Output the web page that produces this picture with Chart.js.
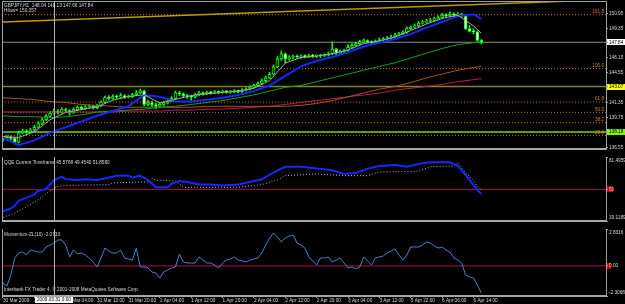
<!DOCTYPE html>
<html>
<head>
<meta charset="utf-8">
<script src="https://cdn.jsdelivr.net/npm/chart.js@4.4.1/dist/chart.umd.min.js"></script>
<style>
  html, body { margin: 0; padding: 0; background: #000; width: 625px; height: 304px; overflow: hidden; }
  canvas { position: absolute; left: 0; top: 0; }
</style>
</head>
<body>
<canvas id="mainChart" width="625" height="304"></canvas>
<canvas id="qqeChart" width="625" height="304"></canvas>
<canvas id="momChart" width="625" height="304"></canvas>
<script>
// TIME AXIS
const timeLabels = ["30 Mar 2009", "30 Mar 20:00", "31 Mar 04:00", "31 Mar 12:00", "31 Mar 20:00", "1 Apr 04:00",
  "1 Apr 12:00", "1 Apr 20:00", "2 Apr 04:00", "2 Apr 12:00", "2 Apr 20:00", "3 Apr 04:00", "3 Apr 12:00",
  "5 Apr 22:00", "6 Apr 06:00", "6 Apr 14:00"];
const timeIdx = [0, 8, 16, 24, 32, 40, 48, 56, 64, 72, 80, 88, 96, 104, 112, 120];
const markerBar = 13;
const markerLabel = "2009.03.31 0:00";

// GBPJPY H1 CANDLES
const opens = [137.5,137.4,137.6,137.5,137.1,138.1,138.3,138.2,138.4,138.7,
  139.1,139.5,139.9,140.2,140.4,140.3,140.6,140.5,140.3,140.6,
  140.85,140.7,140.9,140.95,140.8,141.0,141.4,141.9,141.8,142.0,
  141.95,142.1,141.95,142.0,142.2,142.4,142.6,141.15,141.35,141.1,
  140.95,141.15,141.3,141.55,141.8,142.4,142.3,142.1,142.0,141.95,
  142.2,142.4,142.3,142.45,142.4,142.5,142.45,142.55,142.5,142.5,
  142.6,142.55,142.7,142.8,143.0,143.2,143.4,143.7,144.0,144.4,
  145.2,146.05,146.6,146.05,146.2,146.3,146.25,146.35,146.3,146.4,
  146.35,146.35,146.4,146.45,146.6,147.1,146.7,146.8,146.95,147.3,
  147.5,147.7,147.9,148.0,147.9,147.8,147.95,148.1,148.2,148.3,
  148.4,148.6,148.75,148.9,149.3,149.45,149.6,149.9,150.0,150.1,
  150.2,150.35,150.5,150.75,150.7,150.85,150.75,150.85,150.65,149.3,
  149.0,148.95,148.04];
const highs = [137.7,137.8,137.75,137.6,138.3,138.5,138.45,138.6,138.9,139.3,
  139.7,140.1,140.4,140.7,140.6,140.8,140.75,140.6,140.8,141.0,
  141.0,141.05,141.1,141.05,141.15,141.55,142.05,142.1,142.2,142.15,
  142.35,142.2,142.15,142.35,142.65,142.8,142.7,141.6,141.5,141.3,
  141.35,141.5,141.7,142.0,142.6,142.55,142.4,142.25,142.15,142.35,
  142.55,142.5,142.6,142.55,142.65,142.6,142.7,142.65,142.65,142.75,
  142.7,142.85,142.95,143.15,143.35,143.55,143.9,144.2,144.6,145.4,
  146.3,146.9,146.7,146.4,146.45,146.45,146.5,146.5,146.55,146.55,
  146.5,146.55,146.6,146.8,147.9,147.2,147.0,147.1,147.6,147.7,
  147.85,148.05,148.2,148.1,148.0,148.1,148.3,148.35,148.45,148.6,
  148.8,148.9,149.1,149.5,149.6,149.8,150.1,150.2,150.3,150.4,
  150.55,150.7,150.95,150.9,151.1,151.0,151.05,150.95,150.75,149.65,
  149.3,149.05,148.13];
const lows = [137.2,137.3,137.3,136.9,137.0,138.0,138.0,138.1,138.3,138.6,
  139.0,139.4,139.8,140.1,140.1,140.2,140.3,140.0,140.2,140.5,
  140.55,140.6,140.75,140.65,140.7,140.9,141.3,141.65,141.7,141.8,
  141.85,141.8,141.85,141.9,142.1,142.3,141.0,141.0,140.9,140.7,
  140.8,141.0,141.2,141.45,141.7,142.1,141.9,141.8,141.6,141.85,
  142.1,142.15,142.2,142.25,142.3,142.3,142.35,142.35,142.35,142.4,
  142.4,142.45,142.6,142.7,142.9,143.1,143.3,143.6,143.9,144.3,
  145.1,145.9,145.6,145.9,146.05,146.1,146.1,146.15,146.2,146.2,
  146.2,146.2,146.3,146.35,146.5,146.5,146.6,146.65,146.85,147.2,
  147.4,147.6,147.8,147.75,147.6,147.7,147.85,148.0,148.1,148.2,
  148.3,148.5,148.65,148.8,149.2,149.35,149.5,149.8,149.9,150.0,
  150.1,150.25,150.4,150.5,150.6,150.55,150.6,150.5,149.2,148.95,
  148.75,147.95,147.66];
const closes = [137.4,137.6,137.5,137.1,138.1,138.3,138.2,138.4,138.7,139.1,
  139.5,139.9,140.2,140.4,140.3,140.6,140.5,140.3,140.6,140.85,
  140.7,140.9,140.95,140.8,141.0,141.4,141.9,141.8,142.0,141.95,
  142.1,141.95,142.0,142.2,142.4,142.6,141.15,141.35,141.1,140.95,
  141.15,141.3,141.55,141.8,142.4,142.3,142.1,142.0,141.95,142.2,
  142.4,142.3,142.45,142.4,142.5,142.45,142.55,142.5,142.5,142.6,
  142.55,142.7,142.8,143.0,143.2,143.4,143.7,144.0,144.4,145.2,
  146.05,146.6,146.05,146.2,146.3,146.25,146.35,146.3,146.4,146.35,
  146.35,146.4,146.45,146.6,147.1,146.7,146.8,146.95,147.3,147.5,
  147.7,147.9,148.0,147.9,147.8,147.95,148.1,148.2,148.3,148.4,
  148.6,148.75,148.9,149.3,149.45,149.6,149.9,150.0,150.1,150.2,
  150.35,150.5,150.75,150.7,150.85,150.75,150.85,150.65,149.3,149.0,
  148.95,148.05,147.84];

// MOVING AVERAGES (sampled every few bars)
const maBars = [0,4,8,12,16,20,24,28,32,36,40,44,48,52,56,60,64,68,72,76,80,84,88,92,96,100,104,108,112,116,120,122];
const maFast = [137.7,137.6,138.2,139.5,140.3,140.6,140.9,141.6,142.0,142.2,141.3,141.7,142.1,142.3,142.45,142.55,
  142.9,143.7,145.6,146.2,146.35,146.6,147.0,147.7,148.0,148.4,149.1,149.8,150.4,150.75,149.6,148.8];
const maBlue = [137.58,136.77,137.28,138.09,138.71,139.32,139.93,140.44,140.95,142.17,141.97,141.46,141.46,141.66,141.87,142.17,
  142.58,143.19,144.22,145.24,145.85,146.26,146.77,147.38,147.79,148.19,148.71,149.42,150.03,150.65,150.85,150.34];
const maGreen = [139.93,139.83,139.83,139.73,139.83,140.03,140.34,140.44,140.54,140.64,140.85,140.95,141.15,141.36,141.56,141.87,
  142.17,142.58,142.99,143.19,143.60,144.01,144.42,144.83,145.24,145.64,146.15,146.66,147.17,147.58,147.79,147.89];
const maBrown = [141.87,141.77,141.67,141.46,141.36,141.15,141.05,140.95,140.85,140.85,140.85,140.85,140.85,140.95,140.95,140.95,
  140.95,140.95,140.95,141.05,141.26,141.56,141.97,142.38,142.79,143.09,143.50,144.01,144.42,144.83,145.13,145.24];
const maRed = [140.34,140.34,140.34,140.34,140.34,140.34,140.34,140.34,140.44,140.44,140.44,140.54,140.54,140.64,140.64,140.75,
  140.85,140.95,141.15,141.36,141.56,141.77,141.97,142.17,142.38,142.68,142.89,143.09,143.30,143.60,143.81,143.91];

// OBJECTS ON PRICE CHART
const fibLevels = [23.6, 38.2, 50.0, 61.8, 100.0, 161.8];
const fibLow = 135.6, fibHigh = 145.0;
const trendBars = [0, 150];
const trendPrices = [150.03, 152.35];
const currentPrice = 147.84;
const yellowPrice = 143.07;
const greenPrice = 138.18;
const priceTicks = [150.95, 149.35, 147.84, 146.15, 144.55, 143.07, 141.35, 139.75, 138.18, 136.55];
const priceRange = [136.358, 152.277];

// QQE
const qqeBlueBars = [0,2,3,4,6,8,9,11,13,15,16,19,21,24,27,29,32,33,35,37,39,42,43,45,47,50,53,56,60,63,66,68,70,72,76,80,84,87,90,93,96,100,103,106,109,114,116,117,119,121,122];
const qqeBlue = [28.65,31.25,33.9,39.0,41.6,45.1,48.6,50.3,59.0,62.4,59.8,59.0,59.8,59.0,61.6,63.3,63.3,61.6,63.3,59.0,52.0,52.0,55.5,58.1,57.2,54.6,54.6,53.8,54.6,57.2,59.8,64.2,68.5,72.0,72.0,70.2,68.5,65.0,65.9,70.2,72.8,73.7,72.0,74.6,76.3,76.3,72.8,68.5,59.0,49.4,45.58];
const qqeGrayBars = [0,3,6,9,12,14,16,27,28,37,38,39,44,46,53,60,66,70,72,80,87,93,96,106,109,115,116,118,120,121,122];
const qqeGray = [22.6,26.9,33.0,39.9,48.6,52.9,53.8,54.6,56.4,57.2,60.7,59.0,58.1,52.0,52.0,52.0,54.6,59.0,63.3,65.0,63.3,63.3,66.8,67.7,72.0,72.8,76.3,65.9,59.0,52.9,49.45];
const qqeRange = [19.1189, 81.4959];
const qqeLevel = 50;

// MOMENTUM-ZL(10)
const momentum = [-1.31,-1.54,-0.70,0.61,0.99,1.07,0.84,1.22,1.14,1.07,
  1.07,1.45,1.60,1.76,1.99,1.99,1.60,0.69,1.22,0.91,
  0.99,0.84,0.61,0.30,-0.08,0.61,1.37,1.14,0.99,0.99,
  1.22,0.61,0.53,0.45,1.37,-0.08,-0.08,-0.16,-0.47,-0.54,
  -0.93,-0.47,-0.31,-0.16,-0.08,0.91,0.30,0.22,0.22,0.22,
  0.69,0.45,0.22,0.22,0.07,-0.16,0.22,0.45,0.53,0.69,
  0.45,0.38,0.30,0.45,0.53,0.61,0.99,1.60,2.14,2.53,
  2.22,1.84,2.14,2.29,2.37,1.76,1.60,1.37,0.69,0.38,
  0.07,0.61,0.61,0.69,0.30,0.45,0.61,0.22,-0.16,-0.08,
  -0.23,-0.08,0.69,0.38,0.07,0.61,0.69,0.76,0.99,1.14,
  1.30,0.84,0.45,0.84,1.45,1.45,1.45,1.60,1.84,1.76,
  1.53,1.37,1.45,1.22,1.07,0.61,0.45,0.22,-0.70,-0.85,
  -0.93,-1.46,-2.07];
const momRange = [-2.3068, 2.8316];
const momLevel = 0;

// STYLE
const X_MIN = -0.25, X_MAX = 153.8;
const FONT = { family: "Liberation Sans", size: 4.7, lineHeight: 1.2 };
const FONT_CSS = '4.7px "Liberation Sans"';
const TEXT = "#d8d8d8";
const FRAME = "#a0a0a0";
const LEVEL = "#b0104a";

function line(xs, ys, color, width, dash, order) {
  return {
    type: "line",
    data: xs.map((x, i) => ({ x: x, y: ys[i] })),
    borderColor: color, borderWidth: width, borderDash: dash || [],
    pointRadius: 0, tension: 0, fill: false, order: order
  };
}

function xAxis(show) {
  return {
    type: "linear", min: X_MIN, max: X_MAX, offset: false, display: show,
    grid: { drawOnChartArea: false, drawTicks: true, tickLength: 2, color: FRAME },
    border: { display: false },
    afterBuildTicks: s => { s.ticks = timeIdx.map(v => ({ value: v })); },
    afterFit: s => { s.height = 8; s.paddingLeft = 0; s.paddingRight = 0; },
    ticks: {
      autoSkip: false, maxRotation: 0, minRotation: 0, align: "start", padding: 0,
      color: TEXT, font: FONT,
      callback: v => timeLabels[timeIdx.indexOf(v)]
    }
  };
}

function yAxis(range, ticks, cb, color, lh) {
  return {
    position: "right", min: range[0], max: range[1],
    grid: { drawOnChartArea: false, drawTicks: true, tickLength: 2, color: FRAME },
    border: { display: false },
    afterBuildTicks: s => { s.ticks = ticks.map(v => ({ value: v })); },
    afterFit: s => { s.width = 19; s.paddingTop = 0; s.paddingBottom = 0; },
    ticks: { autoSkip: false, padding: 1, color: color, font: Object.assign({}, FONT, { lineHeight: lh }), callback: cb }
  };
}

function options(padTop, padBottom, y, showX) {
  return {
    responsive: false, animation: false, events: [],
    layout: { padding: { left: 2, right: 0, top: padTop, bottom: padBottom } },
    plugins: { legend: { display: false }, tooltip: { enabled: false } },
    scales: { x: xAxis(showX), y: y }
  };
}

function drawFrame(chart, drawTop) {
  const { ctx, chartArea: a, scales: { x } } = chart;
  ctx.save();
  ctx.strokeStyle = FRAME;
  ctx.lineWidth = 1;
  ctx.beginPath();
  ctx.moveTo(2.5, a.top); ctx.lineTo(2.5, a.bottom);
  ctx.moveTo(a.right + 0.5, a.top); ctx.lineTo(a.right + 0.5, a.bottom);
  if (drawTop) { ctx.moveTo(2, a.top + 0.5); ctx.lineTo(a.right + 1, a.top + 0.5); }
  ctx.stroke();
  // vertical marker line
  const mx = Math.round(x.getPixelForValue(markerBar)) + 0.5;
  ctx.strokeStyle = "#b4b4b4";
  ctx.beginPath(); ctx.moveTo(mx, a.top); ctx.lineTo(mx, a.bottom); ctx.stroke();
  ctx.strokeStyle = "#a8a8a8";
  ctx.lineWidth = 2;
  ctx.beginPath(); ctx.moveTo(2, a.bottom); ctx.lineTo(a.right + 1, a.bottom); ctx.stroke();
  ctx.restore();
}

function texts(chart, items) {
  const ctx = chart.ctx;
  ctx.save();
  ctx.font = FONT_CSS;
  ctx.textBaseline = "top";
  ctx.textAlign = "left";
  ctx.fillStyle = TEXT;
  items.forEach(t => ctx.fillText(t[0], t[1], t[2]));
  ctx.restore();
}

function axisBox(chart, value, color, x0, x1) {
  const { ctx, scales: { y } } = chart;
  const py = y.getPixelForValue(value);
  ctx.save();
  ctx.fillStyle = color;
  ctx.fillRect(x0, Math.round(py) - 3, x1 - x0, 6);
  ctx.restore();
}

const fibPrice = l => fibLow + (fibHigh - fibLow) * l / 100;

// MAIN PRICE PANEL
const boxed = { 147.84: "#ffffff", 143.07: "#ffff00", 138.18: "#7cfc00" };
const mainDecor = {
  id: "mainDecor",
  beforeDraw(chart) {
    Object.keys(boxed).forEach(k => axisBox(chart, Number(k), boxed[k], 607, 625));
  },
  afterDatasetsDraw(chart) {
    const { ctx, chartArea: a, scales: { y } } = chart;
    ctx.save();
    ctx.font = FONT_CSS;
    ctx.textAlign = "right";
    ctx.textBaseline = "bottom";
    ctx.fillStyle = "#c8862a";
    fibLevels.forEach(l => ctx.fillText(l.toFixed(1), a.right - 2, y.getPixelForValue(fibPrice(l)) - 0.5));
    ctx.restore();
  },
  afterDraw(chart) {
    drawFrame(chart, true);
    texts(chart, [["GBPJPY,H1  148.04 148.13 147.66 147.84", 4, 3], ["Hilow= 150.357", 4, 8.5]]);
  }
};

const full = [X_MIN, X_MAX];
new Chart(document.getElementById("mainChart"), {
  type: "line",
  data: {
    datasets: [
      line(maBars, maFast, "#a8a8a8", 1, null, 1),
      line(maBars, maBlue, "#1428ff", 2, null, 1),
      line(maBars, maGreen, "#1f9a1f", 1, null, 1),
      line(maBars, maBrown, "#a8542a", 1, null, 1),
      line(maBars, maRed, "#c0185a", 1, null, 1),
      {
        type: "bar",
        data: closes.map((c, i) => ({ x: i, y: [opens[i], c] })),
        backgroundColor: closes.map((c, i) => c < opens[i] ? "#ffffff" : "#000000"),
        borderColor: "#00ff00", borderWidth: 1, borderSkipped: false,
        barThickness: 3, minBarLength: 1, grouped: false, order: 2
      },
      {
        type: "bar",
        data: highs.map((h, i) => ({ x: i, y: [lows[i], h] })),
        backgroundColor: "#00ff00", borderWidth: 0,
        barThickness: 1, grouped: false, order: 3
      },
      line(trendBars, trendPrices, "#c09a10", 1.5, null, 4),
      line(full, [currentPrice, currentPrice], "#8c8c8c", 1, null, 4),
      line(full, [yellowPrice, yellowPrice], "#84841a", 1.5, null, 4),
      line(full, [greenPrice, greenPrice], "#80d010", 1.5, null, 4),
      ...fibLevels.map(l => line(full, [fibPrice(l), fibPrice(l)], "#b8741e", 1, [1, 2], 4))
    ]
  },
  options: options(1, 147,
    yAxis(priceRange, priceTicks, v => v.toFixed(2),
      c => boxed[c.tick && c.tick.value] ? "#000000" : TEXT, 1.2),
    false),
  plugins: [mainDecor]
});

// QQE PANEL
const qqeDecor = {
  id: "qqeDecor",
  beforeDraw(chart) { axisBox(chart, qqeLevel, "#d00000", 607, 613); },
  afterDraw(chart) {
    drawFrame(chart, false);
    texts(chart, [["QQE Current Timeframe 45.5768 49.4540 51.8580", 4, 160.5]]);
  }
};

new Chart(document.getElementById("qqeChart"), {
  type: "line",
  data: {
    datasets: [
      line(qqeBlueBars, qqeBlue, "#1428ff", 2, null, 1),
      line(qqeGrayBars, qqeGray, "#b0b0b0", 1, [1, 2], 2),
      line(full, [qqeLevel, qqeLevel], LEVEL, 1, null, 3)
    ]
  },
  options: options(157, 75,
    yAxis([qqeRange[0], qqeRange[1]], [qqeRange[1], qqeLevel, qqeRange[0]],
      v => v === qqeRange[1] ? ["", v.toFixed(4)] : v === qqeRange[0] ? [v.toFixed(4), ""] : String(v),
      TEXT, 1.6),
    false),
  plugins: [qqeDecor]
});

// MOMENTUM PANEL
const momDecor = {
  id: "momDecor",
  beforeDraw(chart) { axisBox(chart, momLevel, "#d00000", 607, 611); },
  afterDraw(chart) {
    drawFrame(chart, false);
    texts(chart, [["Momentum-ZL(10) -2.0733", 4, 232.5],
      ["Interbank FX Trader 4, \u00a9 2001-2008 MetaQuotes Software Corp.", 4, 287.5]]);
    // marker date box on time axis
    const { ctx, scales: { x } } = chart;
    const mx = x.getPixelForValue(markerBar);
    ctx.save();
    ctx.font = FONT_CSS;
    const w = ctx.measureText(markerLabel).width + 4;
    ctx.fillStyle = "#ffffff";
    ctx.fillRect(Math.round(mx - w / 2), 297, Math.round(w), 6);
    ctx.fillStyle = "#000000";
    ctx.textAlign = "center";
    ctx.textBaseline = "top";
    ctx.fillText(markerLabel, mx, 297.5);
    ctx.restore();
  }
};

new Chart(document.getElementById("momChart"), {
  type: "line",
  data: {
    datasets: [
      line(momentum.map((v, i) => i), momentum, "#4682c8", 1, null, 1),
      line(full, [momLevel, momLevel], LEVEL, 1, null, 2)
    ]
  },
  options: options(229, 0,
    yAxis([momRange[0], momRange[1]], [momRange[1], momLevel, momRange[0]],
      v => v === momRange[1] ? ["", v.toFixed(4)] : v === momRange[0] ? [v.toFixed(4), ""] : v.toFixed(2),
      TEXT, 1.6),
    true),
  plugins: [momDecor]
});
</script>
</body>
</html>
